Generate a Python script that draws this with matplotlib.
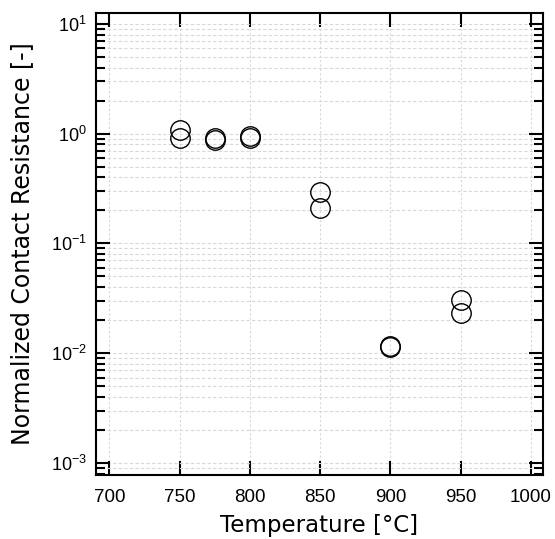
import numpy as np
import matplotlib.pyplot as plt
from matplotlib.ticker import LogLocator, MultipleLocator, NullFormatter

# Temperature [°C] and normalized contact resistance [-]
temperature = [750, 750, 775, 775, 800, 800, 850, 850, 900, 900, 950, 950]
resistance = [1.08, 0.91, 0.92, 0.87, 0.95, 0.92, 0.292, 0.209, 0.0116, 0.0114, 0.0304, 0.023]

plt.rcParams['mathtext.fontset'] = 'custom'
plt.rcParams['mathtext.rm'] = 'Liberation Sans'
plt.rcParams['mathtext.it'] = 'Liberation Sans'

fig = plt.figure(figsize=(5.55, 5.39), dpi=100)
ax = fig.add_axes([0.173, 0.1187, 0.805, 0.8573])

ax.semilogy(temperature, resistance, 'o', markersize=14, markerfacecolor='none',
            markeredgecolor='black', markeredgewidth=1.0, zorder=3)

ax.set_xlim(690.5, 1008.5)
ax.set_ylim(10 ** -3.11, 10 ** 1.1)

ax.xaxis.set_major_locator(MultipleLocator(50))
ax.yaxis.set_major_locator(LogLocator(base=10, numticks=10))
ax.yaxis.set_minor_locator(LogLocator(base=10, subs=np.arange(2, 10), numticks=20))
ax.yaxis.set_minor_formatter(NullFormatter())

ax.tick_params(which='both', direction='in', top=True, right=True, width=1.5)
ax.tick_params(which='major', length=10)
ax.tick_params(axis='x', which='major', pad=10, labelsize=13.5)
ax.tick_params(axis='y', which='major', pad=6.5, labelsize=13)
ax.tick_params(which='minor', length=6.5)
for lab in ax.get_xticklabels() + ax.get_yticklabels():
    lab.set_fontfamily('Liberation Sans')

for s in ax.spines.values():
    s.set_linewidth(1.5)

ax.grid(True, which='major', axis='x', color='#d8d8d8', linestyle=(0, (2, 2)), linewidth=0.8)
ax.grid(True, which='both', axis='y', color='#d8d8d8', linestyle=(0, (3, 2)), linewidth=0.8)
ax.set_axisbelow(True)

ax.set_xlabel('Temperature [°C]', fontsize=16.5, family='DejaVu Sans', labelpad=6)
ax.set_ylabel('Normalized Contact Resistance [-]', fontsize=17, family='DejaVu Sans', labelpad=12)

fig.savefig('out.png', dpi=100)
